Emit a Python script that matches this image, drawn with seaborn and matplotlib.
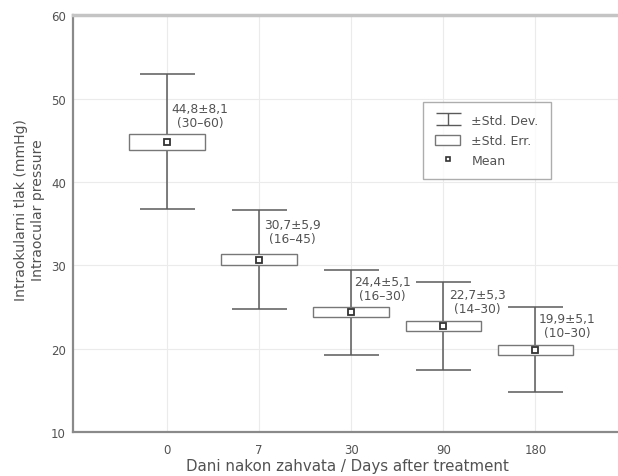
import numpy as np
import pandas as pd
import matplotlib
matplotlib.use('Agg')
import matplotlib.pyplot as plt
import matplotlib.path as mpath
from matplotlib.patches import Rectangle
from matplotlib.lines import Line2D
import seaborn as sns

# data
days = ["0", "7", "30", "90", "180"]
means = [44.8, 30.7, 24.4, 22.7, 19.9]
std_dev = [8.1, 5.9, 5.1, 5.3, 5.1]
std_err = [0.96, 0.65, 0.65, 0.6, 0.6]
ranges = ["(30–60)", "(16–45)", "(16–30)", "(14–30)", "(10–30)"]

# label placement (data units)
label_dx = [0.05, 0.05, 0.03, 0.065, 0.04]
label_y = [48.0, 34.05, 27.25, 25.65, 22.8]

df = pd.DataFrame({"day": days, "mean": means, "sd": std_dev, "se": std_err})

sns.set_style("white")
plt.rcParams['font.family'] = ['DejaVu Sans']

txt = "#525252"
line_c = "#5a5a5a"

fig = plt.figure(figsize=(6.18, 4.77), dpi=100)
ax = fig.add_axes([0.118, 0.092, 0.89, 0.874])

x = np.arange(len(days))

# grid
for xi in x:
    ax.axvline(xi, color="#ebebeb", lw=0.8, zorder=0)
for yv in [20, 30, 40, 50]:
    ax.axhline(yv, color="#ebebeb", lw=0.8, zorder=0)

# std dev whiskers
ax.errorbar(x, df["mean"], yerr=df["sd"], fmt="none", ecolor=line_c,
            elinewidth=1.1, capsize=19.8, capthick=1.1, zorder=2)

# std err boxes
box_w = 0.82
for xi, m, se in zip(x, df["mean"], df["se"]):
    ax.add_patch(Rectangle((xi - box_w / 2, m - se), box_w, 2 * se,
                           facecolor="white", edgecolor="#777777", lw=1.0, zorder=3))

# means
sns.pointplot(data=df, x="day", y="mean", order=days, linestyle="none",
              markers="s", errorbar=None, color="#333333", markersize=4,
              markerfacecolor="white", markeredgecolor="#333333",
              markeredgewidth=1.3, ax=ax, zorder=4)

# annotations
for i in range(len(days)):
    s = f"{means[i]:.1f}±{std_dev[i]:.1f}".replace(".", ",") + "\n" + ranges[i]
    ax.text(x[i] + label_dx[i], label_y[i], s, ha="left", va="center",
            multialignment="center", fontsize=8.8, color=txt, linespacing=1.05,
            zorder=5)

ax.set_xlim(-1.02, 4.95)
ax.set_ylim(10, 60)
ax.set_yticks([10, 20, 30, 40, 50, 60])
ax.set_yticks(np.arange(10, 61, 2), minor=True)
ax.set_xticks(x)
ax.set_xticklabels(days)
ax.tick_params(axis="both", labelsize=8.5, labelcolor=txt, color="#999999")
ax.tick_params(axis="y", which="both", direction="in", length=3, width=0.8, pad=5)
ax.tick_params(axis="x", direction="in", length=3, width=0.8, pad=8)

for side in ["left", "bottom"]:
    ax.spines[side].set_color("#8a8a8a")
    ax.spines[side].set_linewidth(1.6)
ax.spines["top"].set_color("#c4c4c4")
ax.spines["top"].set_linewidth(2.5)
ax.spines["right"].set_visible(False)

ax.set_xlabel("Dani nakon zahvata / Days after treatment", fontsize=10.8,
              color=txt, labelpad=1)
ax.set_ylabel("Intraokularni tlak (mmHg)\nIntraocular pressure", fontsize=10.1,
              color=txt, linespacing=1.3)
ax.yaxis.set_label_coords(-0.05, 0.535)

# legend
ibar = mpath.Path([(-1, 0.45), (1, 0.45), (0, 0.45), (0, -0.45), (-1, -0.45), (1, -0.45)],
                  [mpath.Path.MOVETO, mpath.Path.LINETO, mpath.Path.MOVETO,
                   mpath.Path.LINETO, mpath.Path.MOVETO, mpath.Path.LINETO])
h_sd = Line2D([], [], linestyle="none", marker=ibar, markersize=18,
              markeredgecolor=line_c, markeredgewidth=1.0, fillstyle="none")
h_se = Rectangle((0, 0), 1, 1, facecolor="white", edgecolor="#777777", lw=1.0)
h_m = Line2D([], [], linestyle="none", marker="s", markersize=3.5,
             markerfacecolor="white", markeredgecolor="#333333", markeredgewidth=1.2)
leg = ax.legend([h_sd, h_se, h_m], ["±Std. Dev.", "±Std. Err.", "Mean"],
                loc="upper left", bbox_to_anchor=(0.637, 0.791), fontsize=9,
                frameon=True, fancybox=False, edgecolor="#999999",
                handlelength=2.0, handleheight=0.9, handletextpad=0.9,
                labelspacing=0.55, borderpad=0.95, borderaxespad=0)
for t in leg.get_texts():
    t.set_color(txt)
leg.get_frame().set_linewidth(1.0)

fig.savefig("out.png", dpi=100)
